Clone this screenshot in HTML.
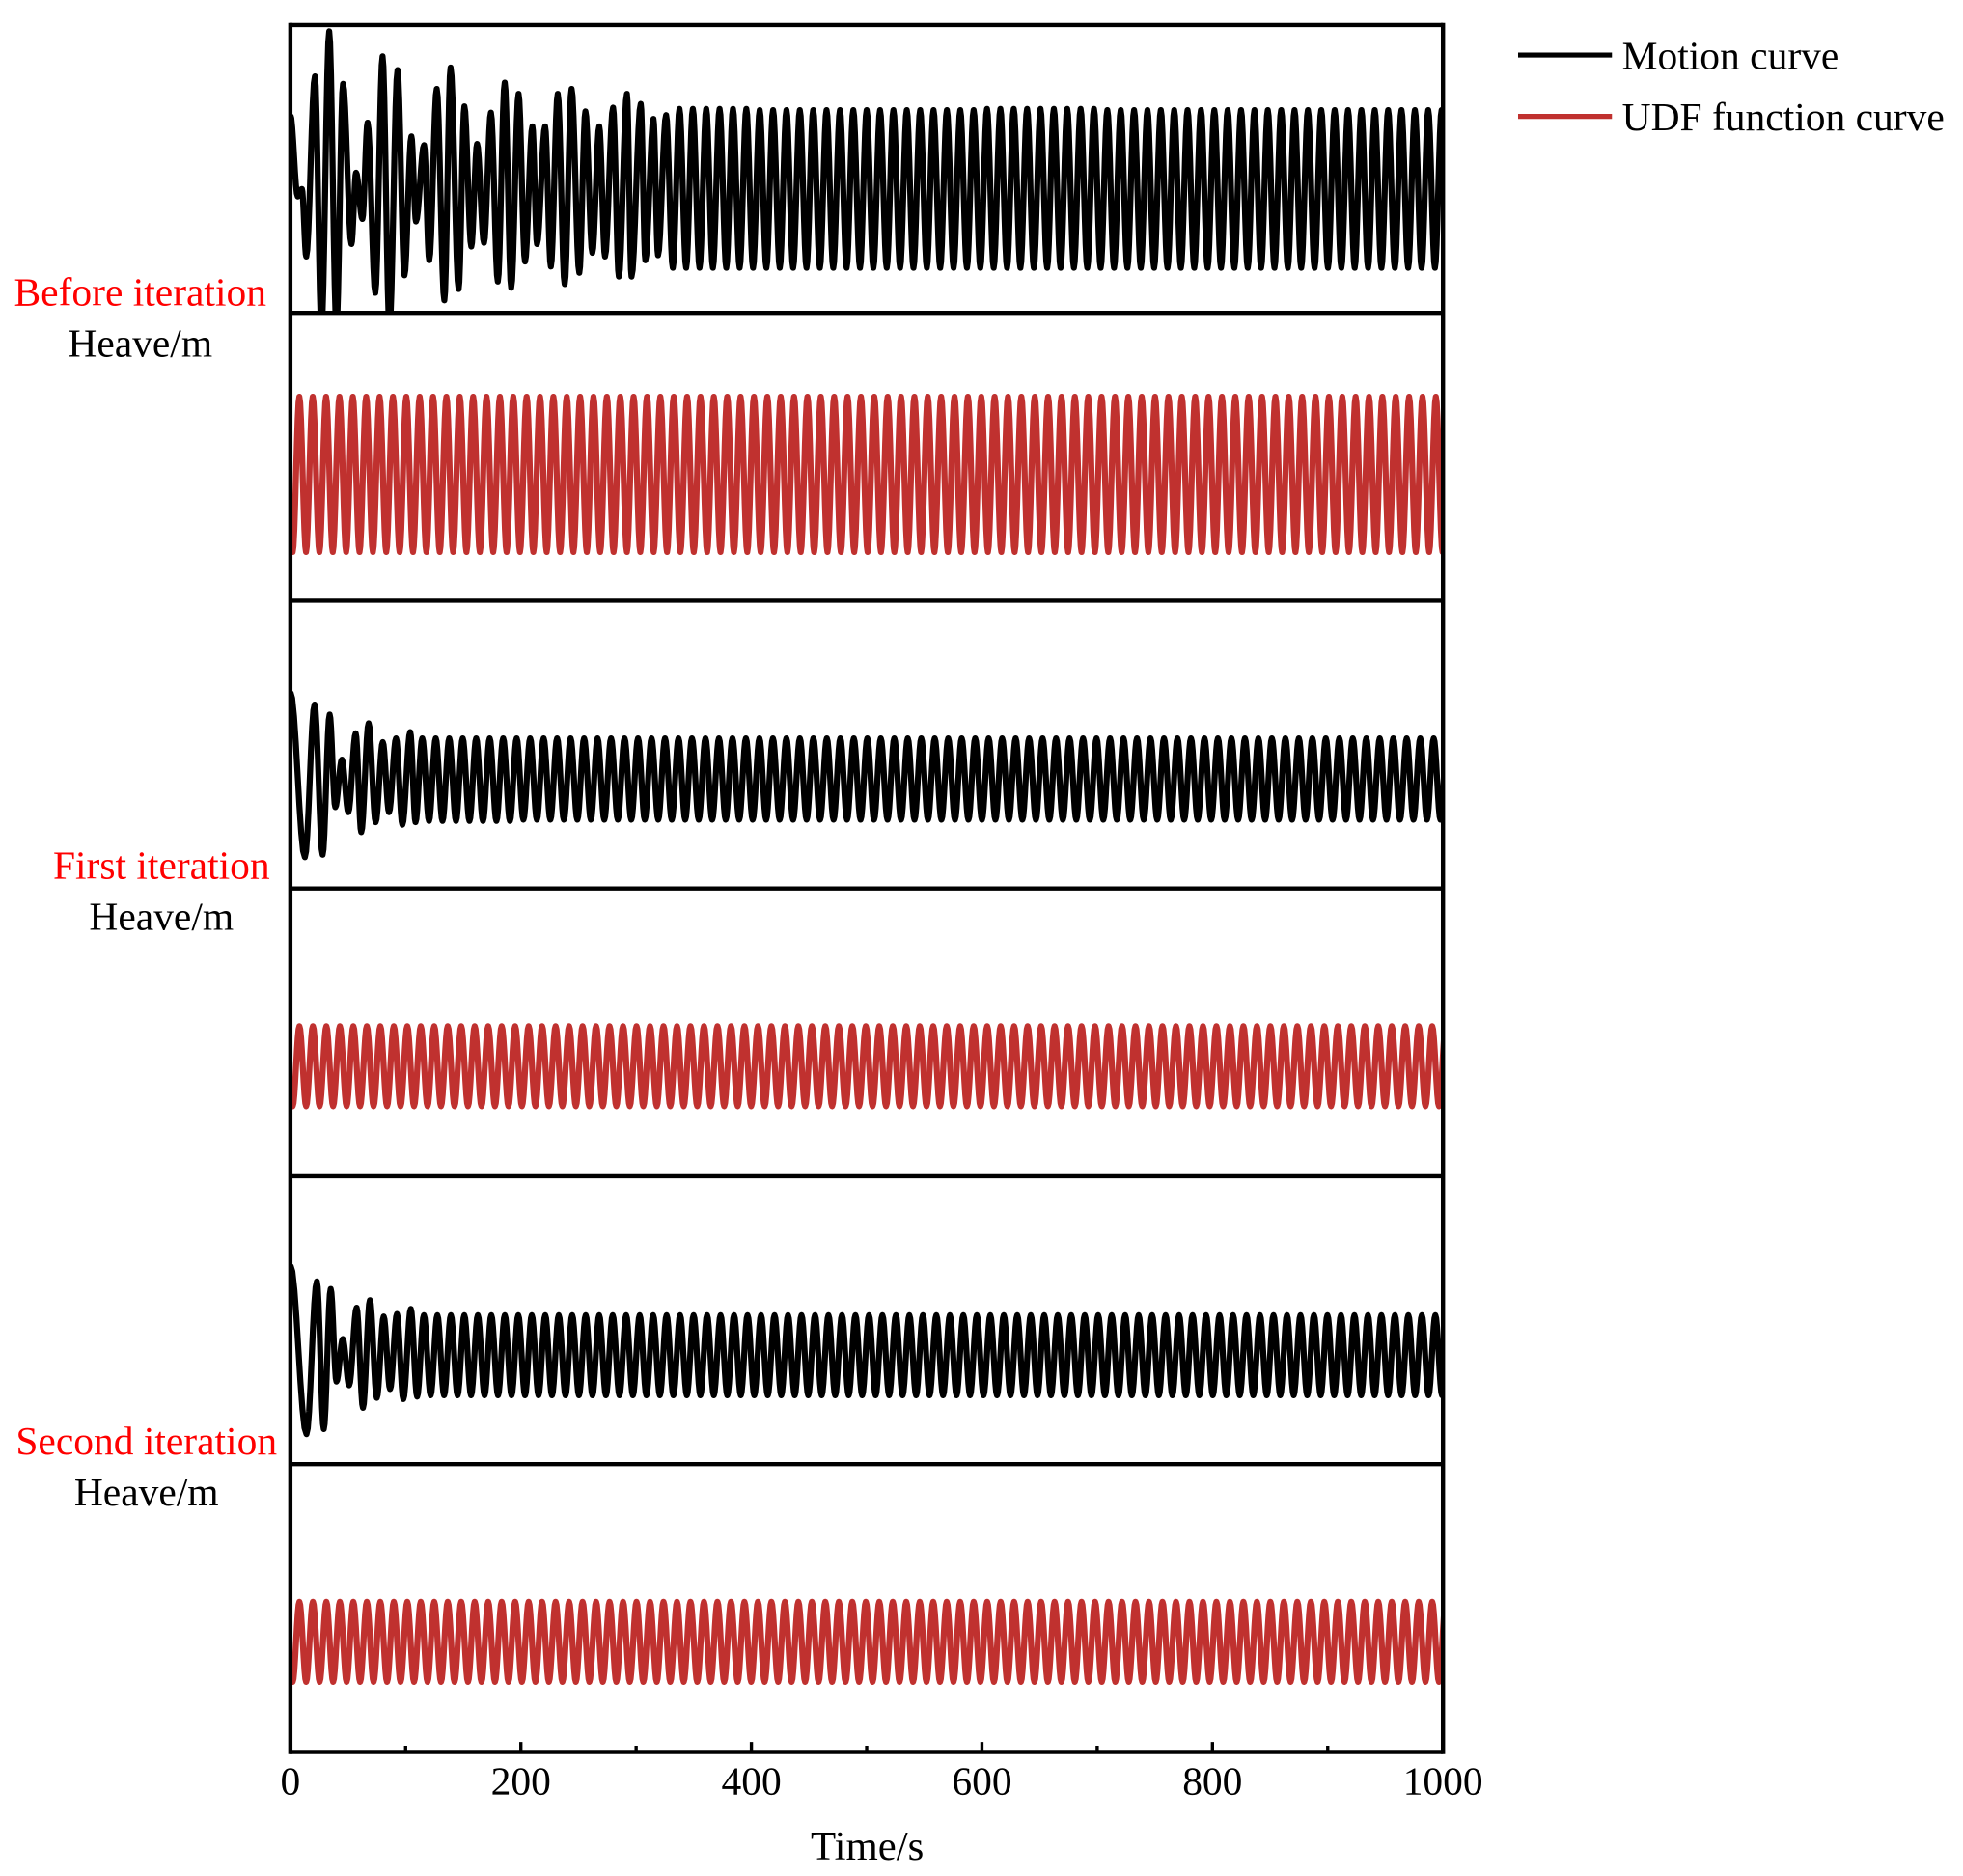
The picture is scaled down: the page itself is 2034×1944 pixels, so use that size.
<!DOCTYPE html>
<html><head><meta charset="utf-8"><style>
html,body{margin:0;padding:0;background:#fff}
svg{display:block}
text{font-family:"Liberation Serif",serif}
</style></head><body>
<svg id="chart" width="2034" height="1944" viewBox="0 0 1568.5 1499.1" preserveAspectRatio="none" xmlns="http://www.w3.org/2000/svg">
<defs>
<clipPath id="cp0"><rect x="232" y="20" width="921" height="231"/></clipPath>
<clipPath id="cp1"><rect x="232" y="251" width="921" height="230"/></clipPath>
<clipPath id="cp2"><rect x="232" y="481" width="921" height="230"/></clipPath>
<clipPath id="cp3"><rect x="232" y="711" width="921" height="230"/></clipPath>
<clipPath id="cp4"><rect x="232" y="941" width="921" height="230"/></clipPath>
<clipPath id="cp5"><rect x="232" y="1171" width="921" height="230"/></clipPath>
</defs>
<g id="series"></g>
<g id="frame"></g>
<g id="labels">
<text x="112" y="244" font-size="32" fill="#ff0000" text-anchor="middle">Before iteration</text>
<text x="112" y="285" font-size="32" fill="#000" text-anchor="middle">Heave/m</text>
<text x="129" y="702" font-size="32" fill="#ff0000" text-anchor="middle">First iteration</text>
<text x="129" y="743" font-size="32" fill="#000" text-anchor="middle">Heave/m</text>
<text x="117" y="1162" font-size="32" fill="#ff0000" text-anchor="middle">Second iteration</text>
<text x="117" y="1203" font-size="32" fill="#000" text-anchor="middle">Heave/m</text>
<text x="693" y="1486" font-size="33" fill="#000" text-anchor="middle">Time/s</text>
</g>
<g id="legend">
<line x1="1213" y1="44" x2="1288" y2="44" stroke="#000" stroke-width="4"/>
<text x="1296" y="55" font-size="32">Motion curve</text>
<line x1="1213" y1="93" x2="1288" y2="93" stroke="#c0312f" stroke-width="4"/>
<text x="1296" y="104" font-size="32">UDF function curve</text>
</g>
</svg>
<script>
// ---- data ----
const xTicks = [0, 200, 400, 600, 800, 1000];
const xMinorTicks = [100, 300, 500, 700, 900];
const periods = [11.6, 11.6, 11.7, 11.7, 11.7, 11.7];
// transient extrema: times and values (m)
const beforeMotionT = [0,6.4,10,13.8,21.3,27,33.7,40,45.7,53,57,62.5,67,73.7,80,86,93,99,105,109,116,120.5,127,133.6,139,146,151,157,162,168,174,180,186,191.6,198,203.6,210,214,221,226,232,238,244,250.7,256,262,268,273,280,285,292,296,304,308,315,319,326];
const beforeMotionV = [0.43,-0.22,-0.16,-0.70,0.74,-1.27,1.10,-1.27,0.68,-0.60,-0.03,-0.40,0.37,-0.99,0.90,-1.27,0.79,-0.85,0.26,-0.42,0.19,-0.73,0.64,-1.05,0.81,-0.96,0.50,-0.62,0.20,-0.59,0.45,-0.90,0.69,-0.95,0.60,-0.74,0.34,-0.60,0.34,-0.78,0.60,-0.92,0.64,-0.83,0.46,-0.67,0.34,-0.70,0.49,-0.86,0.60,-0.86,0.52,-0.73,0.40,-0.69,0.43];
const firstMotionT = [0,12.6,21,28,34.1,39,44.7,50.3,56.7,61.5,67.9,74,80.2,85.6,91.7,97.2,104,108.6];
const firstMotionV = [0.42,-0.90,0.32,-0.88,0.24,-0.50,-0.12,-0.54,0.09,-0.70,0.17,-0.62,0.02,-0.54,0.05,-0.64,0.10,-0.62];
const secondMotionT = [0,14,23,29,35,40,45.5,51,57.5,63,69,75,81,86.5,92.5,98,104.5,110];
const secondMotionV = [0.44,-0.91,0.31,-0.87,0.25,-0.49,-0.15,-0.52,0.10,-0.70,0.16,-0.62,0.03,-0.55,0.05,-0.63,0.09,-0.61];
const udfT = [0, 2];
const beforeUdfV = [-0.5, -0.76];
const firstUdfV = [-0.4, -0.59];
const secondUdfV = [-0.4, -0.59];
// steady-state peak / trough levels per 100 s segment
const beforeMotionPeak   = [0.47,0.47,0.47,0.48,0.47,0.47,0.48,0.47,0.47,0.47];
const beforeMotionTrough = [-0.78,-0.78,-0.79,-0.79,-0.79,-0.79,-0.79,-0.79,-0.79,-0.79];
const beforeUdfPeak      = [0.48,0.48,0.48,0.48,0.48,0.48,0.48,0.48,0.48,0.48];
const beforeUdfTrough    = [-0.76,-0.76,-0.76,-0.76,-0.76,-0.76,-0.76,-0.76,-0.76,-0.76];
const firstMotionPeak    = [0.06,0.05,0.05,0.05,0.05,0.05,0.05,0.05,0.05,0.05];
const firstMotionTrough  = [-0.62,-0.61,-0.60,-0.60,-0.60,-0.60,-0.60,-0.60,-0.60,-0.60];
const firstUdfPeak       = [0.05,0.05,0.05,0.05,0.05,0.05,0.05,0.05,0.05,0.05];
const firstUdfTrough     = [-0.59,-0.59,-0.59,-0.59,-0.59,-0.59,-0.59,-0.59,-0.59,-0.59];
const secondMotionPeak   = [0.05,0.04,0.04,0.04,0.04,0.04,0.04,0.04,0.04,0.04];
const secondMotionTrough = [-0.61,-0.60,-0.60,-0.60,-0.60,-0.60,-0.60,-0.60,-0.60,-0.60];
const secondUdfPeak      = [0.05,0.05,0.05,0.05,0.05,0.05,0.05,0.05,0.05,0.05];
const secondUdfTrough    = [-0.59,-0.59,-0.59,-0.59,-0.59,-0.59,-0.59,-0.59,-0.59,-0.59];

// ---- layout ----
const X0 = 232, X1 = 1153, PANEL_TOP = 20, PANEL_H = 230, NP = 6;
const xScale = t => X0 + (t / 1000) * (X1 - X0);
const yScale = (i, v) => PANEL_TOP + i * PANEL_H + PANEL_H / 2 - v * 100;
const NS = "http://www.w3.org/2000/svg";
const seriesG = document.getElementById('series');
const frameG = document.getElementById('frame');

const panels = [
  {T: beforeMotionT, V: beforeMotionV, P: beforeMotionPeak, Q: beforeMotionTrough, color: "#000", name: "before-motion-curve"},
  {T: udfT, V: beforeUdfV, P: beforeUdfPeak, Q: beforeUdfTrough, color: "#c0312f", name: "before-udf-curve"},
  {T: firstMotionT, V: firstMotionV, P: firstMotionPeak, Q: firstMotionTrough, color: "#000", name: "first-motion-curve"},
  {T: udfT, V: firstUdfV, P: firstUdfPeak, Q: firstUdfTrough, color: "#c0312f", name: "first-udf-curve"},
  {T: secondMotionT, V: secondMotionV, P: secondMotionPeak, Q: secondMotionTrough, color: "#000", name: "second-motion-curve"},
  {T: udfT, V: secondUdfV, P: secondUdfPeak, Q: secondUdfTrough, color: "#c0312f", name: "second-udf-curve"}
];

panels.forEach((p, i) => {
  const ts = p.T.slice(), vs = p.V.slice();
  let last = vs[vs.length - 1], prev = vs[vs.length - 2];
  let isPeak = last > prev;
  let t = ts[ts.length - 1];
  const half = periods[i] / 2;
  while (t < 1000) {
    t += half; isPeak = !isPeak;
    const seg = Math.min(9, Math.floor(t / 100));
    ts.push(t); vs.push(isPeak ? p.P[seg] : p.Q[seg]);
  }
  let d = "M" + xScale(ts[0]).toFixed(2) + "," + yScale(i, vs[0]).toFixed(2);
  for (let k = 1; k < ts.length; k++) {
    const ta = ts[k - 1], tb = ts[k], va = vs[k - 1], vb = vs[k];
    const n = 8;
    for (let s = 1; s <= n; s++) {
      const f = s / n, w = (1 - Math.cos(Math.PI * f)) / 2;
      d += "L" + xScale(ta + (tb - ta) * f).toFixed(2) + "," + yScale(i, va + (vb - va) * w).toFixed(2);
    }
  }
  const path = document.createElementNS(NS, 'path');
  path.setAttribute('d', d);
  path.setAttribute('fill', 'none');
  path.setAttribute('stroke', p.color);
  path.setAttribute('stroke-width', '4.8');
  path.setAttribute('stroke-linejoin', 'round');
  path.setAttribute('clip-path', 'url(#cp' + i + ')');
  
  
  seriesG.appendChild(path);
});

// frame
function line(x1, y1, x2, y2, w, name) {
  const l = document.createElementNS(NS, 'line');
  l.setAttribute('x1', x1); l.setAttribute('y1', y1);
  l.setAttribute('x2', x2); l.setAttribute('y2', y2);
  l.setAttribute('stroke', '#000'); l.setAttribute('stroke-width', w);
  
  
  frameG.appendChild(l);
}
const YB = PANEL_TOP + NP * PANEL_H;
line(X0, PANEL_TOP - 1.7, X0, YB + 1.7, 3.4, 'left-axis');
line(X1, PANEL_TOP - 1.7, X1, YB + 1.7, 3.4, 'right-axis');
for (let k = 0; k <= NP; k++) {
  line(X0, PANEL_TOP + k * PANEL_H, X1, PANEL_TOP + k * PANEL_H, 3.4, k === NP ? 'x-axis' : 'panel-divider');
}
xTicks.forEach(v => {
  line(xScale(v), YB, xScale(v), YB - 8, 2.6, 'x-major-tick');
  const tx = document.createElementNS(NS, 'text');
  tx.setAttribute('x', xScale(v)); tx.setAttribute('y', YB + 34);
  tx.setAttribute('font-size', '32'); tx.setAttribute('text-anchor', 'middle');
  tx.textContent = v;
  
  
  frameG.appendChild(tx);
});
xMinorTicks.forEach(v => line(xScale(v), YB, xScale(v), YB - 5, 2.6, 'x-minor-tick'));
</script>
</body></html>
